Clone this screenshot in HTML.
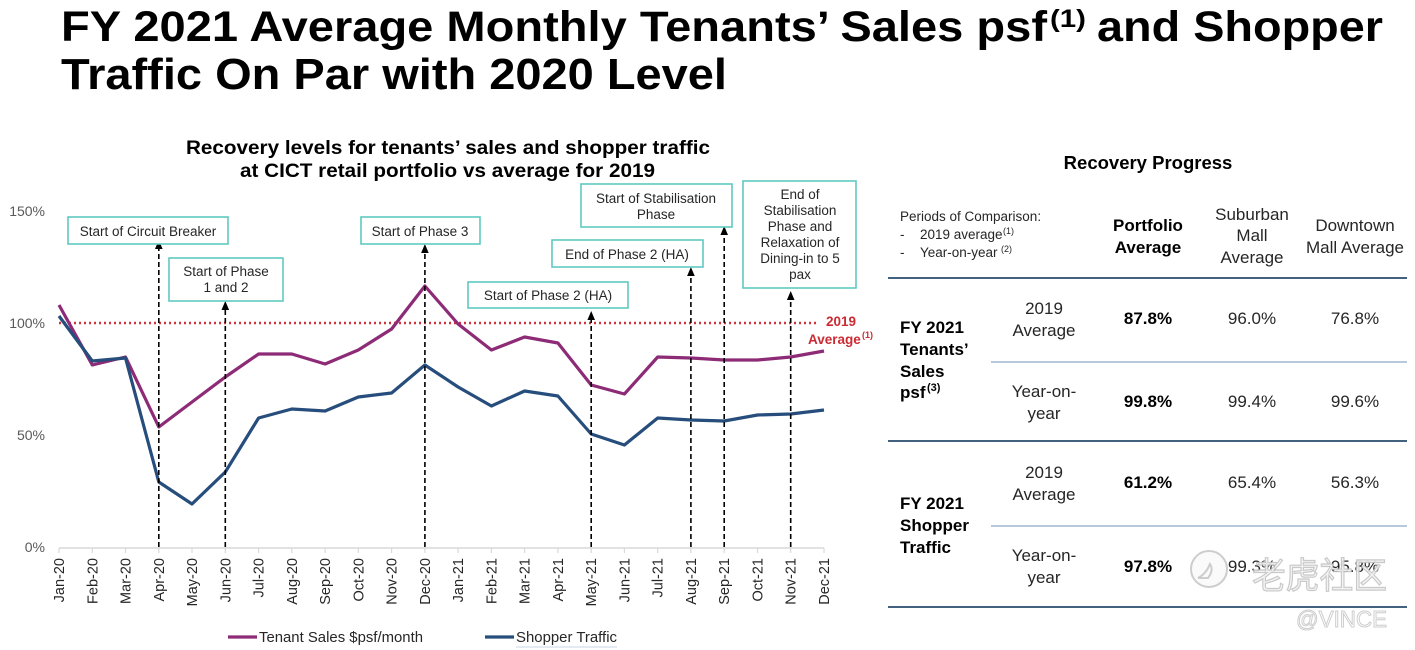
<!DOCTYPE html>
<html><head><meta charset="utf-8"><style>
html,body{margin:0;padding:0;background:#fff;}
svg{display:block;}
text{font-family:"Liberation Sans","Noto Sans CJK SC",sans-serif;}
</style></head><body>
<svg width="1415" height="650" viewBox="0 0 1415 650" xmlns="http://www.w3.org/2000/svg">
<!-- Main title -->
<text x="61" y="41" font-size="43" font-weight="bold" fill="#000" textLength="986" lengthAdjust="spacingAndGlyphs">FY 2021 Average Monthly Tenants’ Sales psf</text>
<text x="1050" y="27" font-size="25" font-weight="bold" fill="#000" textLength="36" lengthAdjust="spacingAndGlyphs">(1)</text>
<text x="1097" y="41" font-size="43" font-weight="bold" fill="#000" textLength="286" lengthAdjust="spacingAndGlyphs">and Shopper</text>
<text x="61" y="89" font-size="44" font-weight="bold" fill="#000" textLength="666" lengthAdjust="spacingAndGlyphs">Traffic On Par with 2020 Level</text>

<!-- Chart title -->
<text x="186" y="154" font-size="19.5" font-weight="bold" fill="#000" textLength="524" lengthAdjust="spacingAndGlyphs">Recovery levels for tenants’ sales and shopper traffic</text>
<text x="240" y="177" font-size="19.5" font-weight="bold" fill="#000" textLength="415" lengthAdjust="spacingAndGlyphs">at CICT retail portfolio vs average for 2019</text>

<!-- Y labels -->
<g font-size="14" fill="#595959" text-anchor="end">
<text x="45" y="216">150%</text>
<text x="45" y="328">100%</text>
<text x="45" y="440">50%</text>
<text x="45" y="552">0%</text>
</g>

<!-- X axis -->
<line x1="59" y1="548" x2="824" y2="548" stroke="#d9d9d9" stroke-width="1.5"/>
<g stroke="#d9d9d9" stroke-width="1.2">
<line x1="59" y1="548" x2="59" y2="553"/><line x1="92.3" y1="548" x2="92.3" y2="553"/><line x1="125.5" y1="548" x2="125.5" y2="553"/><line x1="158.8" y1="548" x2="158.8" y2="553"/><line x1="192" y1="548" x2="192" y2="553"/><line x1="225.3" y1="548" x2="225.3" y2="553"/><line x1="258.6" y1="548" x2="258.6" y2="553"/><line x1="291.8" y1="548" x2="291.8" y2="553"/><line x1="325.1" y1="548" x2="325.1" y2="553"/><line x1="358.3" y1="548" x2="358.3" y2="553"/><line x1="391.6" y1="548" x2="391.6" y2="553"/><line x1="424.9" y1="548" x2="424.9" y2="553"/><line x1="458.1" y1="548" x2="458.1" y2="553"/><line x1="491.4" y1="548" x2="491.4" y2="553"/><line x1="524.6" y1="548" x2="524.6" y2="553"/><line x1="557.9" y1="548" x2="557.9" y2="553"/><line x1="591.2" y1="548" x2="591.2" y2="553"/><line x1="624.4" y1="548" x2="624.4" y2="553"/><line x1="657.7" y1="548" x2="657.7" y2="553"/><line x1="690.9" y1="548" x2="690.9" y2="553"/><line x1="724.2" y1="548" x2="724.2" y2="553"/><line x1="757.5" y1="548" x2="757.5" y2="553"/><line x1="790.7" y1="548" x2="790.7" y2="553"/><line x1="824" y1="548" x2="824" y2="553"/>
</g>
<g font-size="14.5" fill="#262626" text-anchor="end">
<text transform="translate(64,558) rotate(-90)">Jan-20</text>
<text transform="translate(97.3,558) rotate(-90)">Feb-20</text>
<text transform="translate(130.5,558) rotate(-90)">Mar-20</text>
<text transform="translate(163.8,558) rotate(-90)">Apr-20</text>
<text transform="translate(197,558) rotate(-90)">May-20</text>
<text transform="translate(230.3,558) rotate(-90)">Jun-20</text>
<text transform="translate(263.6,558) rotate(-90)">Jul-20</text>
<text transform="translate(296.8,558) rotate(-90)">Aug-20</text>
<text transform="translate(330.1,558) rotate(-90)">Sep-20</text>
<text transform="translate(363.3,558) rotate(-90)">Oct-20</text>
<text transform="translate(396.6,558) rotate(-90)">Nov-20</text>
<text transform="translate(429.9,558) rotate(-90)">Dec-20</text>
<text transform="translate(463.1,558) rotate(-90)">Jan-21</text>
<text transform="translate(496.4,558) rotate(-90)">Feb-21</text>
<text transform="translate(529.6,558) rotate(-90)">Mar-21</text>
<text transform="translate(562.9,558) rotate(-90)">Apr-21</text>
<text transform="translate(596.2,558) rotate(-90)">May-21</text>
<text transform="translate(629.4,558) rotate(-90)">Jun-21</text>
<text transform="translate(662.7,558) rotate(-90)">Jul-21</text>
<text transform="translate(695.9,558) rotate(-90)">Aug-21</text>
<text transform="translate(729.2,558) rotate(-90)">Sep-21</text>
<text transform="translate(762.5,558) rotate(-90)">Oct-21</text>
<text transform="translate(795.7,558) rotate(-90)">Nov-21</text>
<text transform="translate(829,558) rotate(-90)">Dec-21</text>
</g>

<!-- 2019 average dotted line -->
<line x1="59" y1="323" x2="819" y2="323" stroke="#d2343c" stroke-width="2.6" stroke-dasharray="2 3"/>
<text x="826" y="326" font-size="13.5" font-weight="bold" fill="#cc2a32">2019</text>
<text x="808" y="344" font-size="13.5" font-weight="bold" fill="#cc2a32">Average</text>
<text x="862" y="338" font-size="9" font-weight="bold" fill="#cc2a32">(1)</text>

<!-- Series -->
<polyline fill="none" stroke="#8d2b76" stroke-width="3.2" stroke-linejoin="round" points="59,305 92.3,365 125.5,357 158.8,427 192,402 225.3,377 258.6,354 291.8,354 325.1,364 358.3,350 391.6,329 424.9,286 458.1,324 491.4,350 524.6,337 557.9,343 591.2,385 624.4,394 657.7,357 690.9,358 724.2,360 757.5,360 790.7,357 824,351"/>
<polyline fill="none" stroke="#264d7b" stroke-width="3.2" stroke-linejoin="round" points="59,316 92.3,361 125.5,358 158.8,482 192,504 225.3,472 258.6,418 291.8,409 325.1,411 358.3,397 391.6,393 424.9,365 458.1,387 491.4,406 524.6,391 557.9,396 591.2,434 624.4,445 657.7,418 690.9,420 724.2,421 757.5,415 790.7,414 824,410"/>

<!-- Dashed arrows -->
<g stroke="#000" stroke-width="1.6" stroke-dasharray="5 3">
<line x1="158.8" y1="547" x2="158.8" y2="247"/>
<line x1="225.3" y1="547" x2="225.3" y2="308"/>
<line x1="424.9" y1="547" x2="424.9" y2="251"/>
<line x1="591.2" y1="547" x2="591.2" y2="318"/>
<line x1="690.9" y1="547" x2="690.9" y2="274"/>
<line x1="724.2" y1="547" x2="724.2" y2="233"/>
<line x1="790.7" y1="547" x2="790.7" y2="298"/>
</g>
<g fill="#000">
<polygon points="158.8,240 155,249 162.6,249"/>
<polygon points="225.3,301 221.5,310 229.1,310"/>
<polygon points="424.9,244 421.1,253 428.7,253"/>
<polygon points="591.2,311 587.4,320 595,320"/>
<polygon points="690.9,267 687.1,276 694.7,276"/>
<polygon points="724.2,226 720.4,235 728,235"/>
<polygon points="790.7,291 786.9,300 794.5,300"/>
</g>

<!-- Annotation boxes -->
<g fill="#fff" stroke="#5fc9c1" stroke-width="1.6">
<rect x="68" y="217" width="160" height="27"/>
<rect x="169" y="258" width="114" height="43"/>
<rect x="361" y="217" width="119" height="27"/>
<rect x="468" y="282" width="160" height="26"/>
<rect x="552" y="240" width="151" height="27"/>
<rect x="581" y="184" width="151" height="43"/>
<rect x="743" y="181" width="113" height="107"/>
</g>
<g font-size="13.5" fill="#262626" text-anchor="middle">
<text x="148" y="236">Start of Circuit Breaker</text>
<text x="226" y="276">Start of Phase</text>
<text x="226" y="292">1 and 2</text>
<text x="420" y="236">Start of Phase 3</text>
<text x="548" y="300">Start of Phase 2 (HA)</text>
<text x="627" y="259">End of Phase 2 (HA)</text>
<text x="656" y="203">Start of Stabilisation</text>
<text x="656" y="219">Phase</text>
<text x="800" y="199">End of</text>
<text x="800" y="215">Stabilisation</text>
<text x="800" y="231">Phase and</text>
<text x="800" y="247">Relaxation of</text>
<text x="800" y="263">Dining-in to 5</text>
<text x="800" y="279">pax</text>
</g>

<!-- Legend -->
<line x1="228" y1="637" x2="257" y2="637" stroke="#8d2b76" stroke-width="3.2"/>
<text x="259" y="642" font-size="14.5" fill="#262626" textLength="164" lengthAdjust="spacingAndGlyphs">Tenant Sales $psf/month</text>
<line x1="485" y1="637" x2="514" y2="637" stroke="#264d7b" stroke-width="3.2"/>
<text x="516" y="642" font-size="14.5" fill="#262626" textLength="101" lengthAdjust="spacingAndGlyphs">Shopper Traffic</text>
<line x1="516" y1="647" x2="617" y2="647" stroke="#c9d6e3" stroke-width="1"/>

<!-- Table -->
<text x="1148" y="169" font-size="18.5" font-weight="bold" fill="#000" text-anchor="middle">Recovery Progress</text>
<g font-size="13.5" fill="#262626">
<text x="900" y="221">Periods of Comparison:</text>
<text x="900" y="239">-</text>
<text x="920" y="239">2019 average</text>
<text x="1003" y="234" font-size="9">(1)</text>
<text x="900" y="257">-</text>
<text x="920" y="257">Year-on-year</text>
<text x="1001" y="252" font-size="9">(2)</text>
</g>
<g font-size="17" font-weight="bold" fill="#000" text-anchor="middle">
<text x="1148" y="231">Portfolio</text>
<text x="1148" y="253">Average</text>
</g>
<g font-size="17" fill="#262626" text-anchor="middle">
<text x="1252" y="220">Suburban</text>
<text x="1252" y="241">Mall</text>
<text x="1252" y="263">Average</text>
<text x="1355" y="231">Downtown</text>
<text x="1355" y="253">Mall Average</text>
</g>
<line x1="888" y1="278" x2="1407" y2="278" stroke="#41617f" stroke-width="2"/>
<line x1="991" y1="362" x2="1407" y2="362" stroke="#9fb8d2" stroke-width="1.5"/>
<line x1="888" y1="441" x2="1407" y2="441" stroke="#41617f" stroke-width="2"/>
<line x1="991" y1="526" x2="1407" y2="526" stroke="#9fb8d2" stroke-width="1.5"/>
<line x1="888" y1="607" x2="1407" y2="607" stroke="#41617f" stroke-width="2"/>

<g font-size="17" font-weight="bold" fill="#000">
<text x="900" y="333">FY 2021</text>
<text x="900" y="355">Tenants’</text>
<text x="900" y="377">Sales</text>
<text x="900" y="398">psf</text>
<text x="927" y="391" font-size="11">(3)</text>
<text x="900" y="509">FY 2021</text>
<text x="900" y="531">Shopper</text>
<text x="900" y="553">Traffic</text>
</g>
<g font-size="17" fill="#262626" text-anchor="middle">
<text x="1044" y="314">2019</text>
<text x="1044" y="336">Average</text>
<text x="1044" y="397">Year-on-</text>
<text x="1044" y="419">year</text>
<text x="1044" y="478">2019</text>
<text x="1044" y="500">Average</text>
<text x="1044" y="561">Year-on-</text>
<text x="1044" y="583">year</text>
</g>
<g font-size="17" font-weight="bold" fill="#000" text-anchor="middle">
<text x="1148" y="324">87.8%</text>
<text x="1148" y="407">99.8%</text>
<text x="1148" y="488">61.2%</text>
<text x="1148" y="572">97.8%</text>
</g>
<g font-size="17" fill="#262626" text-anchor="middle">
<text x="1252" y="324">96.0%</text>
<text x="1355" y="324">76.8%</text>
<text x="1252" y="407">99.4%</text>
<text x="1355" y="407">99.6%</text>
<text x="1252" y="488">65.4%</text>
<text x="1355" y="488">56.3%</text>
<text x="1252" y="572">99.3%</text>
<text x="1355" y="572">95.8%</text>
</g>

<!-- Watermark -->
<g opacity="0.9">
<circle cx="1209" cy="569" r="18" fill="#fafafa" stroke="#c8c8c8" stroke-width="2"/>
<path d="M1198,578 q8,-4 12,-14 q4,6 -2,14 z" fill="none" stroke="#c8c8c8" stroke-width="2"/>
<text x="1252" y="588" font-size="36" fill="#f2f2f2" stroke="#c4c4c4" stroke-width="1.2" font-family="Noto Sans CJK SC, sans-serif" textLength="135" lengthAdjust="spacingAndGlyphs">老虎社区</text>
<text x="1296" y="627" font-size="23" fill="#ffffff" stroke="#c8c8c8" stroke-width="1" textLength="91" lengthAdjust="spacingAndGlyphs">@VINCE</text>
</g>
</svg>
</body></html>
